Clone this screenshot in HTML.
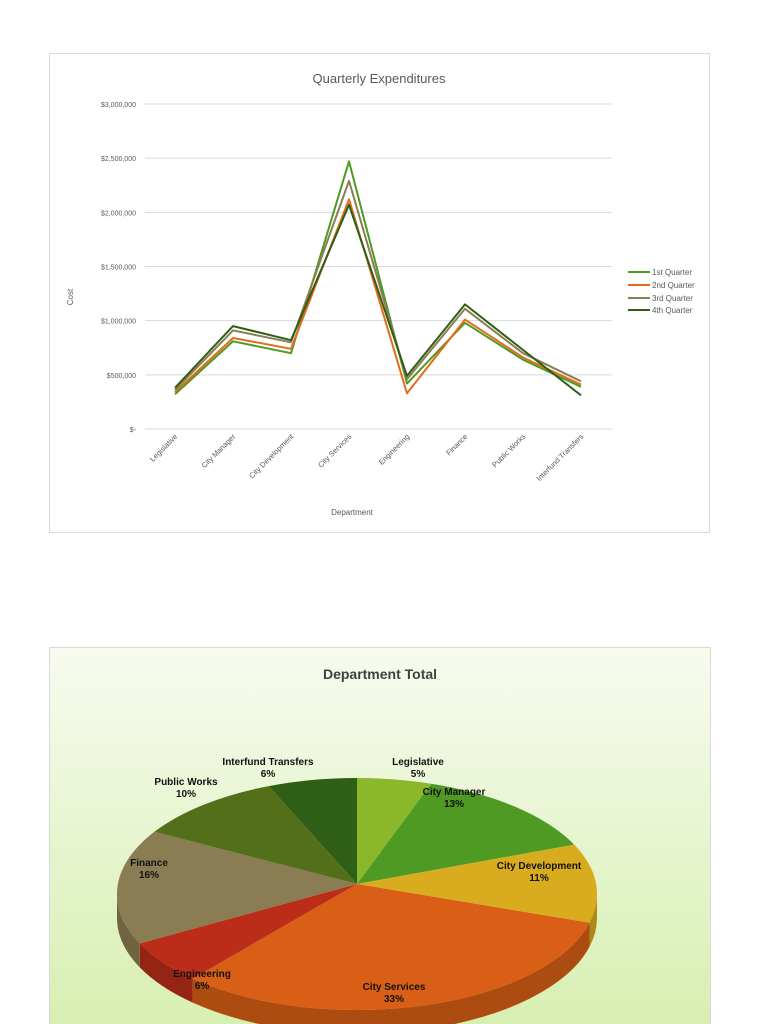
<!DOCTYPE html>
<html><head><meta charset="utf-8"><style>
body{margin:0;width:768px;height:1024px;background:#fff;overflow:hidden;font-family:"Liberation Sans",sans-serif}
svg{position:absolute;left:0;top:0}
</style></head><body>
<svg id="s" width="768" height="1024" xmlns="http://www.w3.org/2000/svg">
<defs>
<linearGradient id="bg" x1="0" y1="0" x2="0" y2="1"><stop offset="0" stop-color="#f7fbef"/><stop offset="1" stop-color="#d6eeae"/></linearGradient>
</defs>
<rect x="49.5" y="53.5" width="660" height="479" fill="#fff" stroke="#d9d9d9"/>
<text x="379" y="83" font-size="13" fill="#595959" text-anchor="middle">Quarterly Expenditures</text>
<g id="grid"></g>
<text x="73" y="297" font-size="8" fill="#595959" text-anchor="middle" transform="rotate(-90 73 297)">Cost</text>
<text x="352" y="515" font-size="8" fill="#595959" text-anchor="middle">Department</text>
<g id="lines"></g>
<g font-size="8" fill="#595959">
<line x1="628" y1="272" x2="650" y2="272" stroke="#4e9a22" stroke-width="2"/><text x="652" y="275">1st Quarter</text>
<line x1="628" y1="285" x2="650" y2="285" stroke="#e36c1a" stroke-width="2"/><text x="652" y="288">2nd Quarter</text>
<line x1="628" y1="298" x2="650" y2="298" stroke="#8b7d53" stroke-width="2"/><text x="652" y="301">3rd Quarter</text>
<line x1="628" y1="310" x2="650" y2="310" stroke="#2f5e16" stroke-width="2"/><text x="652" y="313">4th Quarter</text>
</g>
<rect x="49.5" y="647.5" width="661" height="400" fill="url(#bg)" stroke="#d9d9d9"/>
<text x="380" y="679" font-size="14" font-weight="bold" fill="#404040" text-anchor="middle">Department Total</text>
<g id="pie"></g>
<g font-size="10" fill="#111" text-anchor="middle" font-weight="bold">
<text x="418" y="765">Legislative</text><text x="418" y="777">5%</text>
<text x="454" y="795">City Manager</text><text x="454" y="807">13%</text>
<text x="539" y="869">City Development</text><text x="539" y="881">11%</text>
<text x="394" y="990">City Services</text><text x="394" y="1002">33%</text>
<text x="202" y="977">Engineering</text><text x="202" y="989">6%</text>
<text x="149" y="866">Finance</text><text x="149" y="878">16%</text>
<text x="186" y="785">Public Works</text><text x="186" y="797">10%</text>
<text x="268" y="765">Interfund Transfers</text><text x="268" y="777">6%</text>
</g>
</svg>
<script>
var NS="http://www.w3.org/2000/svg";
function el(p,t,a,txt){var e=document.createElementNS(NS,t);for(var k in a)e.setAttribute(k,a[k]);if(txt)e.textContent=txt;document.getElementById(p).appendChild(e);return e;}
var y0=429,k=108.33;
var labs=["$-","$500,000","$1,000,000","$1,500,000","$2,000,000","$2,500,000","$3,000,000"];
for(var i=0;i<=6;i++){var y=y0-i*0.5*k;el("grid","line",{x1:145,x2:612,y1:y,y2:y,stroke:"#d9d9d9","stroke-width":1});
el("grid","text",{x:136,y:y+3,"font-size":7,fill:"#595959","text-anchor":"end"},labs[i]);}
var cats=["Legislative","City Manager","City Development","City Services","Engineering","Finance","Public Works","Interfund Transfers"];
var xs=[];for(var i=0;i<8;i++){xs.push(175+i*58);
el("grid","text",{x:xs[i]+3,y:437,"font-size":7.5,fill:"#595959","text-anchor":"end",transform:"rotate(-45 "+(xs[i]+3)+" 437)"},cats[i]);}
var data=[
["#4e9a22",[320,810,700,2470,420,980,640,390]],
["#e36c1a",[340,840,740,2120,330,1010,660,410]],
["#8b7d53",[360,910,800,2290,460,1110,700,440]],
["#2f5e16",[380,950,820,2070,490,1150,730,310]]];
data.forEach(function(d){var p=d[1].map(function(v,i){return xs[i]+","+(y0-v/1000*k).toFixed(1)}).join(" ");
el("lines","polyline",{points:p,fill:"none",stroke:d[0],"stroke-width":2,"stroke-linejoin":"round"});});
var cx=357,cy=894,vy=884,rx=240,ry=116,dep=24;
var sl=[[5,"#8bb82a"],[13,"#4e9a22"],[11,"#d9ac1f"],[33,"#d95f16"],[6,"#bb2d18"],[16,"#8b7d53"],[10,"#536f1a"],[6,"#2f5e16"]];
function dk(c,f){var n=parseInt(c.slice(1),16);var r=(n>>16)*f|0,g=((n>>8)&255)*f|0,b=(n&255)*f|0;return "rgb("+r+","+g+","+b+")";}
function pt(a,dy){return [(cx+rx*Math.cos(a)).toFixed(1),(cy+ry*Math.sin(a)+(dy||0)).toFixed(1)];}
var a=-Math.PI/2,angs=[];
sl.forEach(function(s){var b=a+s[0]/100*2*Math.PI;angs.push([a,b,s[1]]);a=b;});
angs.forEach(function(s){var a1=Math.max(s[0],0),a2=Math.min(s[1],Math.PI);
 if(a2>a1){var p1=pt(a1),p2=pt(a2),q2=pt(a2,dep),q1=pt(a1,dep);
 var d="M"+p1+" A"+rx+" "+ry+" 0 0 1 "+p2+" L"+q2+" A"+rx+" "+ry+" 0 0 0 "+q1+"Z";
 el("pie","path",{d:d,fill:dk(s[2],0.8)});}});
angs.forEach(function(s){var p1=pt(s[0]),p2=pt(s[1]);var large=(s[1]-s[0])>Math.PI?1:0;
 el("pie","path",{d:"M"+cx+","+vy+" L"+p1+" A"+rx+" "+ry+" 0 "+large+" 1 "+p2+"Z",fill:s[2]});});
</script>
</body></html>
